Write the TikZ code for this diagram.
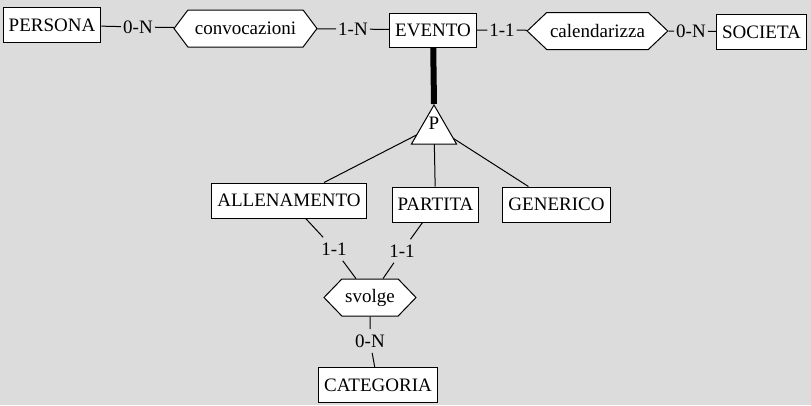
\documentclass[tikz,border=0pt]{standalone}
\usepackage{fontspec}
\setmainfont{Liberation Serif}
\usetikzlibrary{shapes.symbols, shapes.geometric}

\definecolor{sfondo}{RGB}{220,220,220}

\begin{document}
\begin{tikzpicture}[
            x = 1pt, y = -1pt, % pixel coordinates
            line width = 1pt, % line style
            font = \fontsize{19}{22}\selectfont
        ]

        \tikzstyle{entita}=[
            draw = black,
            fill = white,
            inner xsep = 5.5pt,
            minimum height = 35pt
        ]
        \tikzstyle{relazione}=[
            draw = black,
            fill = white,
            shape = signal,
            signal to = east and west,
            minimum height = 37pt
        ]
        \tikzstyle{card}=[
            inner xsep = 1.5pt,
            inner ysep = 5pt
        ]

        \fill[sfondo] (0,0) rectangle (811,405);
        \useasboundingbox (0,0) rectangle (811,405);

        % entities
        \node[entita] (persona) at (52,25) {PERSONA};
        \node[entita, minimum height = 34pt] (evento) at (433,30) {EVENTO};
        \node[entita] (societa) at (761.5,32) {SOCIETA};
        \node[entita] (allenamento) at (289,200.5) {ALLENAMENTO};
        \node[entita] (partita) at (435.5,204.5) {PARTITA};
        \node[entita] (generico) at (556.5,204.5) {GENERICO};
        \node[entita] (categoria) at (378,385) {CATEGORIA};

        % relationships
        \node[relazione, minimum width = 143pt, signal pointer angle = 106] (convocazioni) at (245.5,28.5) {convocazioni};
        \node[relazione, minimum width = 139pt, signal pointer angle = 87] (calendarizza) at (597.5,31) {calendarizza};
        \node[relazione, minimum width = 90pt, signal pointer angle = 92] (svolge) at (370,297.5) {svolge};

        % generalization (lines go under the triangle)
        \coordinate (isacentro) at (434,126);
        \draw (allenamento) -- (isacentro);
        \draw (partita) -- (isacentro);
        \draw (generico) -- (isacentro);
        \node[draw = black, fill = white, regular polygon, regular polygon sides = 3,
              minimum size = 52pt, inner sep = 0pt,
              label = {[yshift = 7.5pt]center:P}] (isa) at (434,131) {};
        \draw[line width = 6pt] (evento) -- (isa.corner 1);

        % cardinalities
        \node[card] (c1) at (138,27) {0-N};
        \node[card] (c2) at (353,29) {1-N};
        \node[card] (c3) at (502,30) {1-1};
        \node[card] (c4) at (691,31) {0-N};
        \node[card] (c5) at (334,249) {1-1};
        \node[card] (c6) at (402,251) {1-1};
        \node[card] (c7) at (370,341) {0-N};

        \draw (persona) -- (c1) -- (convocazioni);
        \draw (convocazioni) -- (c2) -- (evento);
        \draw (evento) -- (c3) -- (calendarizza);
        \draw (calendarizza) -- (c4) -- (societa);
        \draw (allenamento) -- (c5) -- (svolge);
        \draw (partita) -- (c6) -- (svolge);
        \draw (svolge) -- (c7) -- (categoria);

    \end{tikzpicture}
\end{document}
